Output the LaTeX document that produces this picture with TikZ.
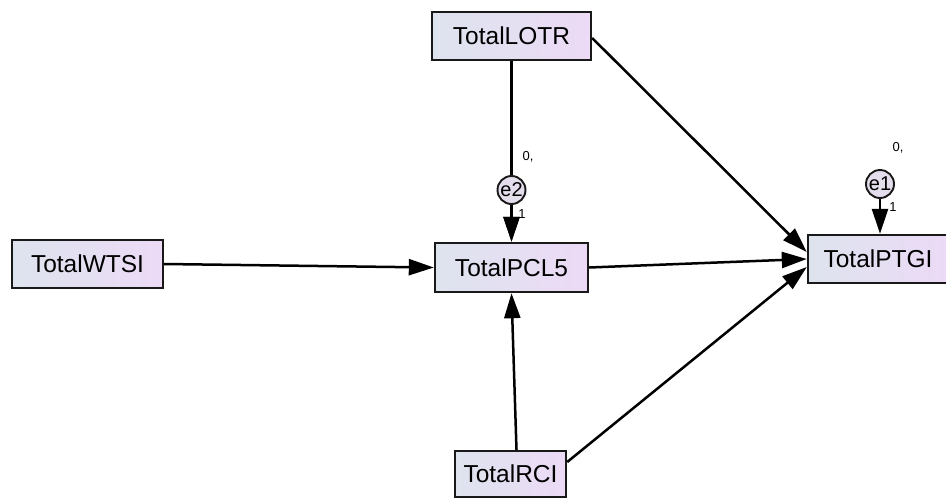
\documentclass[tikz,border=0pt]{standalone}
\usepackage{fontspec}
\setmainfont{Liberation Sans}
\usetikzlibrary{arrows.meta,calc}
\definecolor{boxleft}{RGB}{222,228,238}
\definecolor{boxright}{RGB}{236,218,246}
\definecolor{errfill}{RGB}{228,222,236}
\tikzset{
  var/.style={draw=black!90, line width=2.4pt, left color=boxleft, right color=boxright,
    font=\fontsize{24.5}{24.5}\selectfont, inner sep=0pt, anchor=center},
  err/.style={circle, draw=black!90, line width=1.9pt, fill=errfill, minimum size=28pt, inner sep=0pt,
    font=\fontsize{20}{20}\selectfont},
  path/.style={line width=2.5pt, -{Triangle[length=25pt,width=16pt]}},
  lbl/.style={font=\fontsize{13}{13}\selectfont, inner sep=0pt}
}
\begin{document}
\begin{tikzpicture}[x=1pt,y=-1pt]
\useasboundingbox (0,0) rectangle (946,499);
\fill[white] (0,0) rectangle (946,499);
\node[var, minimum width=159pt, minimum height=48pt] (LOTR) at (511.5,36) {TotalLOTR};
\node[var, minimum width=151pt, minimum height=48pt] (WTSI) at (87.5,264) {TotalWTSI};
\node[var, minimum width=153pt, minimum height=49pt] (PCL5) at (511.5,267.5) {TotalPCL5};
\node[var, minimum width=140pt, minimum height=48pt] (PTGI) at (878,259) {TotalPTGI};
\node[var, minimum width=111pt, minimum height=46pt] (RCI) at (510.5,474) {TotalRCI};

\draw[path] (LOTR.south) -- (PCL5.north);
\draw[path] ($(LOTR.east)+(0,2)$) -- ($(PTGI.west)+(0,-7)$);
\draw[path] (WTSI.east) -- (PCL5.west);
\draw[path] (PCL5.east) -- (PTGI.west);
\draw[path] ($(RCI.north)+(6,0)$) -- (PCL5.south);
\draw[path] ($(RCI.east)+(0,-12)$) -- ($(PTGI.west)+(0,8)$);

\node[err] (e2) at (511.5,190) {e2};
\node[err] (e1) at (880,184) {e1};
\draw[path] (e2) -- (PCL5.north);
\draw[path] (e1) -- (e1 |- PTGI.north);

\node[lbl] (e2v) at (528,157) {0,};
\node[lbl] (e2w) at (522,214) {1};
\node[lbl] (e1v) at (898,148) {0,};
\node[lbl] (e1w) at (893,207) {1};
\end{tikzpicture}
\end{document}
